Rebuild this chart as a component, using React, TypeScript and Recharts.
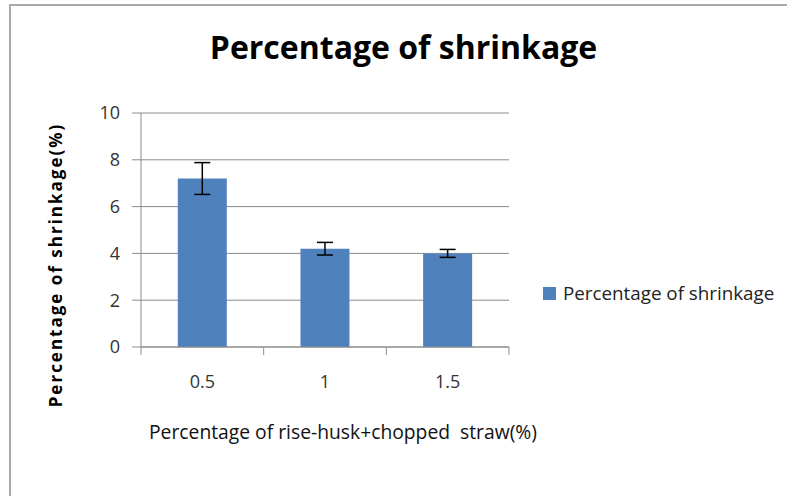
import { BarChart, Bar, XAxis, YAxis, CartesianGrid, ErrorBar, Legend } from 'recharts'

const categories = ['0.5', '1', '1.5']
const shrinkage = [7.2, 4.2, 4.0]
const shrinkageErr = [0.68, 0.27, 0.17]
const yTicks = [0, 2, 4, 6, 8, 10]

const SERIES = 'Percentage of shrinkage'
const BLUE = '#4F81BD'
const GRID = '#8c8c8c'
const FONT = '"Open Sans", "Noto Sans", sans-serif'

const X_TICK_SIZE = 8
const X_TICK_MARGIN = 20

const data = categories.map((c, i) => ({ name: c, value: shrinkage[i], err: shrinkageErr[i] }))

function CategoryTick(props: any) {
  const { x, y, payload, index, visibleTicksCount } = props
  const half = payload?.offset ?? 0
  const top = y - X_TICK_MARGIN - X_TICK_SIZE
  const bottom = y - X_TICK_MARGIN
  return (
    <g>
      <line x1={x - half} x2={x - half} y1={top} y2={bottom} stroke={GRID} />
      {index === visibleTicksCount - 1 && (
        <line x1={x + half} x2={x + half} y1={top} y2={bottom} stroke={GRID} />
      )}
      <text x={x} y={y} dy="0.71em" textAnchor="middle" fontSize={18} fill="#333" fontFamily={FONT}>
        {payload.value}
      </text>
    </g>
  )
}

function LegendBox(props: any) {
  const { payload } = props
  return (
    <div>
      {(payload || []).map((p: any) => (
        <div key={p.value} style={{ display: 'flex', alignItems: 'center', fontFamily: FONT, fontSize: 18.8, color: '#222' }}>
          <span style={{ width: 13, height: 13, background: p.color, marginRight: 7, display: 'inline-block' }} />
          <span>{p.value}</span>
        </div>
      ))}
    </div>
  )
}

export default function App() {
  return (
    <div style={{ position: 'absolute', left: 0, top: 0, width: 787, height: 496, overflow: 'hidden', background: '#fff' }}>
      <div
        style={{
          position: 'absolute',
          left: 9,
          top: 4,
          width: 800,
          height: 520,
          borderLeft: '2px solid #a9a9a9',
          borderTop: '2px solid #a9a9a9',
        }}
      />
      <div
        style={{
          position: 'absolute',
          left: 10,
          top: 31,
          width: 787,
          textAlign: 'center',
          fontFamily: FONT,
          fontWeight: 700,
          fontSize: 32,
          lineHeight: '32px',
          color: '#000',
        }}
      >
        Percentage of shrinkage
      </div>
      <BarChart
        width={787}
        height={496}
        data={data}
        margin={{ top: 113, right: 278, bottom: 119, left: 81 }}
        barCategoryGap="30%"
        style={{ position: 'absolute', left: 0, top: 0 }}
      >
        <CartesianGrid vertical={false} stroke={GRID} />
        <XAxis
          dataKey="name"
          height={30}
          axisLine={{ stroke: GRID }}
          tickLine={false}
          tickSize={X_TICK_SIZE}
          tickMargin={X_TICK_MARGIN}
          tick={<CategoryTick />}
          interval={0}
          label={{
            content: (p: any) => (
              <text
                x={p.viewBox.x + p.viewBox.width / 2 + 18}
                y={p.viewBox.y + 92}
                textAnchor="middle"
                fontFamily={FONT}
                fontSize={19.3}
                fill="#111"
              >
                {'Percentage of rise-husk+chopped\u00a0\u00a0straw(%)'}
              </text>
            ),
          }}
        />
        <YAxis
          width={60}
          domain={[0, 10]}
          ticks={yTicks}
          axisLine={{ stroke: GRID }}
          tickLine={{ stroke: GRID }}
          tickSize={9}
          tickMargin={12}
          tick={{ fontSize: 18, fill: '#333', fontFamily: FONT }}
          label={{
            content: (p: any) => (
              <text
                x={p.viewBox.x - 26}
                y={p.viewBox.y + p.viewBox.height / 2 + 35}
                transform={`rotate(-90, ${p.viewBox.x - 26}, ${p.viewBox.y + p.viewBox.height / 2 + 35})`}
                textAnchor="middle"
                dominantBaseline="central"
                fontFamily={FONT}
                fontWeight={700}
                fontSize={17}
                letterSpacing={2}
                fill="#000"
              >
                Percentage of shrinkage(%)
              </text>
            ),
          }}
        />
        <Legend
          layout="horizontal"
          align="center"
          verticalAlign="middle"
          content={<LegendBox />}
          wrapperStyle={{ left: 543, top: 280, width: 240 }}
        />
        <Bar dataKey="value" name={SERIES} fill={BLUE} isAnimationActive={false}>
          <ErrorBar dataKey="err" width={8} stroke="#000" strokeWidth={1.5} />
        </Bar>
      </BarChart>
    </div>
  )
}
